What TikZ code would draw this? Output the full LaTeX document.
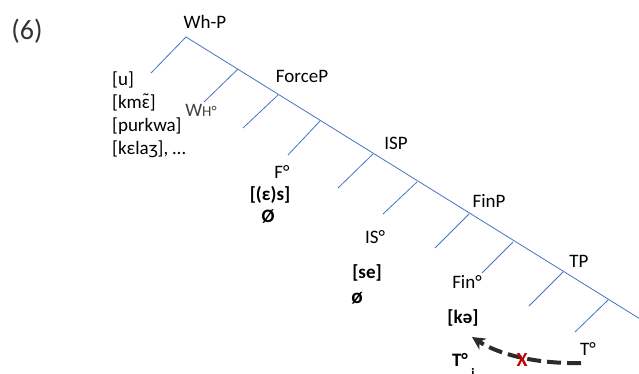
\documentclass[tikz,border=0pt]{standalone}
\usepackage{fontspec}
\setmainfont{Carlito}
\usetikzlibrary{arrows.meta}
\definecolor{treeblue}{HTML}{4472C4}
\definecolor{arrowgray}{HTML}{2B2B2B}
\definecolor{xred}{HTML}{C00000}
\newcommand{\nasaleps}{\ooalign{ɛ\cr\hidewidth\raisebox{0.22ex}{\char"02DC}\hidewidth\cr}}
\begin{document}
\begin{tikzpicture}[x=1pt,y=-1pt,
  lbl/.style={inner sep=0pt,font=\fontsize{19}{23}\selectfont},
  blbl/.style={inner sep=0pt,font=\fontsize{19}{23}\selectfont\bfseries},
  branch/.style={draw=treeblue,line width=0.8pt},
  movearrow/.style={draw=arrowgray,line width=4pt,dash pattern=on 14pt off 6pt,-{Stealth[length=13pt,width=13pt,inset=4pt]}}]
\useasboundingbox (0,0) rectangle (639,374);
% spine points
\coordinate (s1) at (186,37);
\coordinate (s2) at (238,69);
\coordinate (s3) at (278,95);
\coordinate (s4) at (320,121);
\coordinate (s5) at (373,154);
\coordinate (s6) at (417,182);
\coordinate (s7) at (469,214);
\coordinate (s8) at (513,242);
\coordinate (s9) at (563,272);
\coordinate (s10) at (608,300);
\coordinate (send) at (645,322);
% leaves
\coordinate (l1) at (151,73);
\coordinate (l2) at (204,102);
\coordinate (l3) at (243,128);
\coordinate (l4) at (288,155);
\coordinate (l5) at (338,188);
\coordinate (l6) at (383,214);
\coordinate (l7) at (435,248);
\coordinate (l8) at (482,273);
\coordinate (l9) at (529,306);
\coordinate (l10) at (575,332);
\draw[branch] (s1) -- (send);
\foreach \i in {1,...,10} {\draw[branch] (s\i) -- (l\i);}
% labels
\node[inner sep=0pt,font=\fontsize{28}{32}\selectfont,text=black!80] (num) at (27,31) {(6)};
\node[lbl] (whp) at (205,22) {Wh-P};
\node[lbl,align=left,anchor=north west] (list) at (112,72) {{[u]}\\{[km\nasaleps]}\\{[purkwa]}\\{[kεlaʒ], \ldots}};
\node[lbl,text=black!75] (whhead) at (201,110) {W\fontsize{15}{18}\selectfont H°};
\node[lbl] (forcep) at (302,76) {ForceP};
\node[lbl] (fhead) at (282,172) {F°};
\node[blbl] (es) at (270,195) {[(ε)s]};
\node[blbl] (empty1) at (268,217) {Ø};
\node[lbl] (isp) at (396,143) {ISP};
\node[lbl] (ishead) at (375,237) {IS°};
\node[blbl] (se) at (367,273) {[se]};
\node[blbl,font=\fontsize{21}{24}\selectfont\bfseries] (empty2) at (357,298) {ø};
\node[lbl] (finp) at (489,201) {FinP};
\node[lbl] (finhead) at (467,282) {Fin°};
\node[blbl] (ke) at (463,318) {[kə]};
\node[lbl] (tp) at (579,261) {TP};
\node[lbl] (thead) at (588,349) {T°};
\node[blbl] (tmoved) at (460,360) {T°};
\node[inner sep=0pt,font=\fontsize{13}{15}\selectfont\bfseries] (tidx) at (473,373) {i};
\coordinate (astart) at (581,363);
\coordinate (aend) at (472,337);
\draw[movearrow] (astart) .. controls (535,364) and (498,354) .. (aend);
\node[inner sep=0pt,font=\fontsize{20}{24}\selectfont\bfseries,text=xred] (xmark) at (522,360) {X};
\end{tikzpicture}
\end{document}
